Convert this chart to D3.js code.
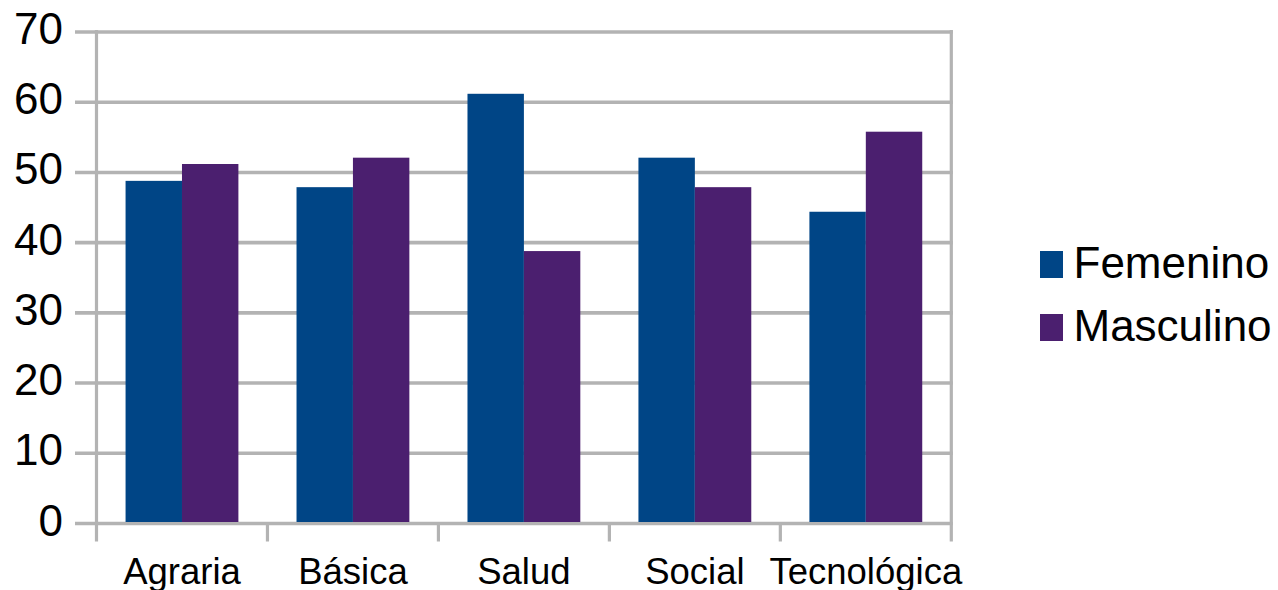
<!DOCTYPE html>
<html>
<head>
<meta charset="utf-8">
<script src="https://cdn.jsdelivr.net/npm/d3@7"></script>
<style>
  html, body { margin: 0; padding: 0; background: #ffffff; }
  svg { display: block; }
  text { font-family: "Liberation Sans", Arial, sans-serif; fill: #000; }
</style>
</head>
<body>
<svg id="chart" width="1278" height="590"></svg>
<script>
const categories = ["Agraria", "Básica", "Salud", "Social", "Tecnológica"];
const seriesNames = ["Femenino", "Masculino"];
const femenino = [48.8, 47.9, 61.2, 52.1, 44.4];
const masculino = [51.2, 52.1, 38.8, 47.9, 55.8];
const yTicks = [0, 10, 20, 30, 40, 50, 60, 70];
const colors = ["#004586", "#4b1f6f"];

(function () {
const seriesValues = [femenino, masculino];
const data = categories.map((c, i) => ({
  category: c,
  values: seriesNames.map((s, j) => ({ series: s, value: seriesValues[j][i] }))
}));

const svg = d3.select("#chart");
const plotLeft = 96.5, plotRight = 951.3, plotTop = 32, plotBottom = 523.5;

const y = d3.scaleLinear().domain([0, 70]).range([plotBottom, plotTop]);
const x0 = d3.scaleBand().domain(categories).range([plotLeft, plotRight])
  .paddingInner(0.34).paddingOuter(0.17);
const x1 = d3.scaleBand().domain(seriesNames).range([0, x0.bandwidth()]);
const color = d3.scaleOrdinal().domain(seriesNames).range(colors);

const grid = "#b3b3b3";

// horizontal gridlines (with left tick extension)
svg.append("g").selectAll("line").data(yTicks).join("line")
  .attr("x1", 75).attr("x2", plotRight + 1.5)
  .attr("y1", d => y(d)).attr("y2", d => y(d))
  .attr("stroke", grid).attr("stroke-width", 3.6);

// bars
const groups = svg.append("g").selectAll("g").data(data).join("g")
  .attr("transform", d => `translate(${x0(d.category)},0)`);
groups.selectAll("rect").data(d => d.values).join("rect")
  .attr("x", d => x1(d.series))
  .attr("width", x1.bandwidth())
  .attr("y", d => y(d.value))
  .attr("height", d => y(0) - 1.5 - y(d.value))
  .attr("fill", d => color(d.series));

// vertical axis lines and category separators
const step = x0.step();
const bounds = d3.range(categories.length + 1).map(i => plotLeft + i * step);
svg.append("g").selectAll("line").data(bounds).join("line")
  .attr("x1", d => d).attr("x2", d => d)
  .attr("y1", (d, i) => (i === 0 || i === bounds.length - 1) ? plotTop - 2 : plotBottom)
  .attr("y2", 541.5)
  .attr("stroke", grid).attr("stroke-width", 3.2);

// y tick labels
svg.append("g").selectAll("text").data(yTicks).join("text")
  .attr("x", 63).attr("y", d => y(d) + 12)
  .attr("text-anchor", "end")
  .style("font-size", "44px")
  .text(d => d);

// x category labels
svg.append("g").selectAll("text").data(categories).join("text")
  .attr("x", d => x0(d) + x0.bandwidth() / 2)
  .attr("y", 584)
  .attr("text-anchor", "middle")
  .style("font-size", "36.5px")
  .text(d => d);

// legend
const legend = svg.append("g").selectAll("g").data(seriesNames).join("g")
  .attr("transform", (d, i) => `translate(1040, ${251 + i * 63})`);
legend.append("rect")
  .attr("x", 0).attr("y", 0).attr("width", 23).attr("height", 27)
  .attr("fill", d => color(d));
legend.append("text")
  .attr("x", 33.5).attr("y", 26.5)
  .style("font-size", "44px")
  .text(d => d);
})();
</script>
</body>
</html>
